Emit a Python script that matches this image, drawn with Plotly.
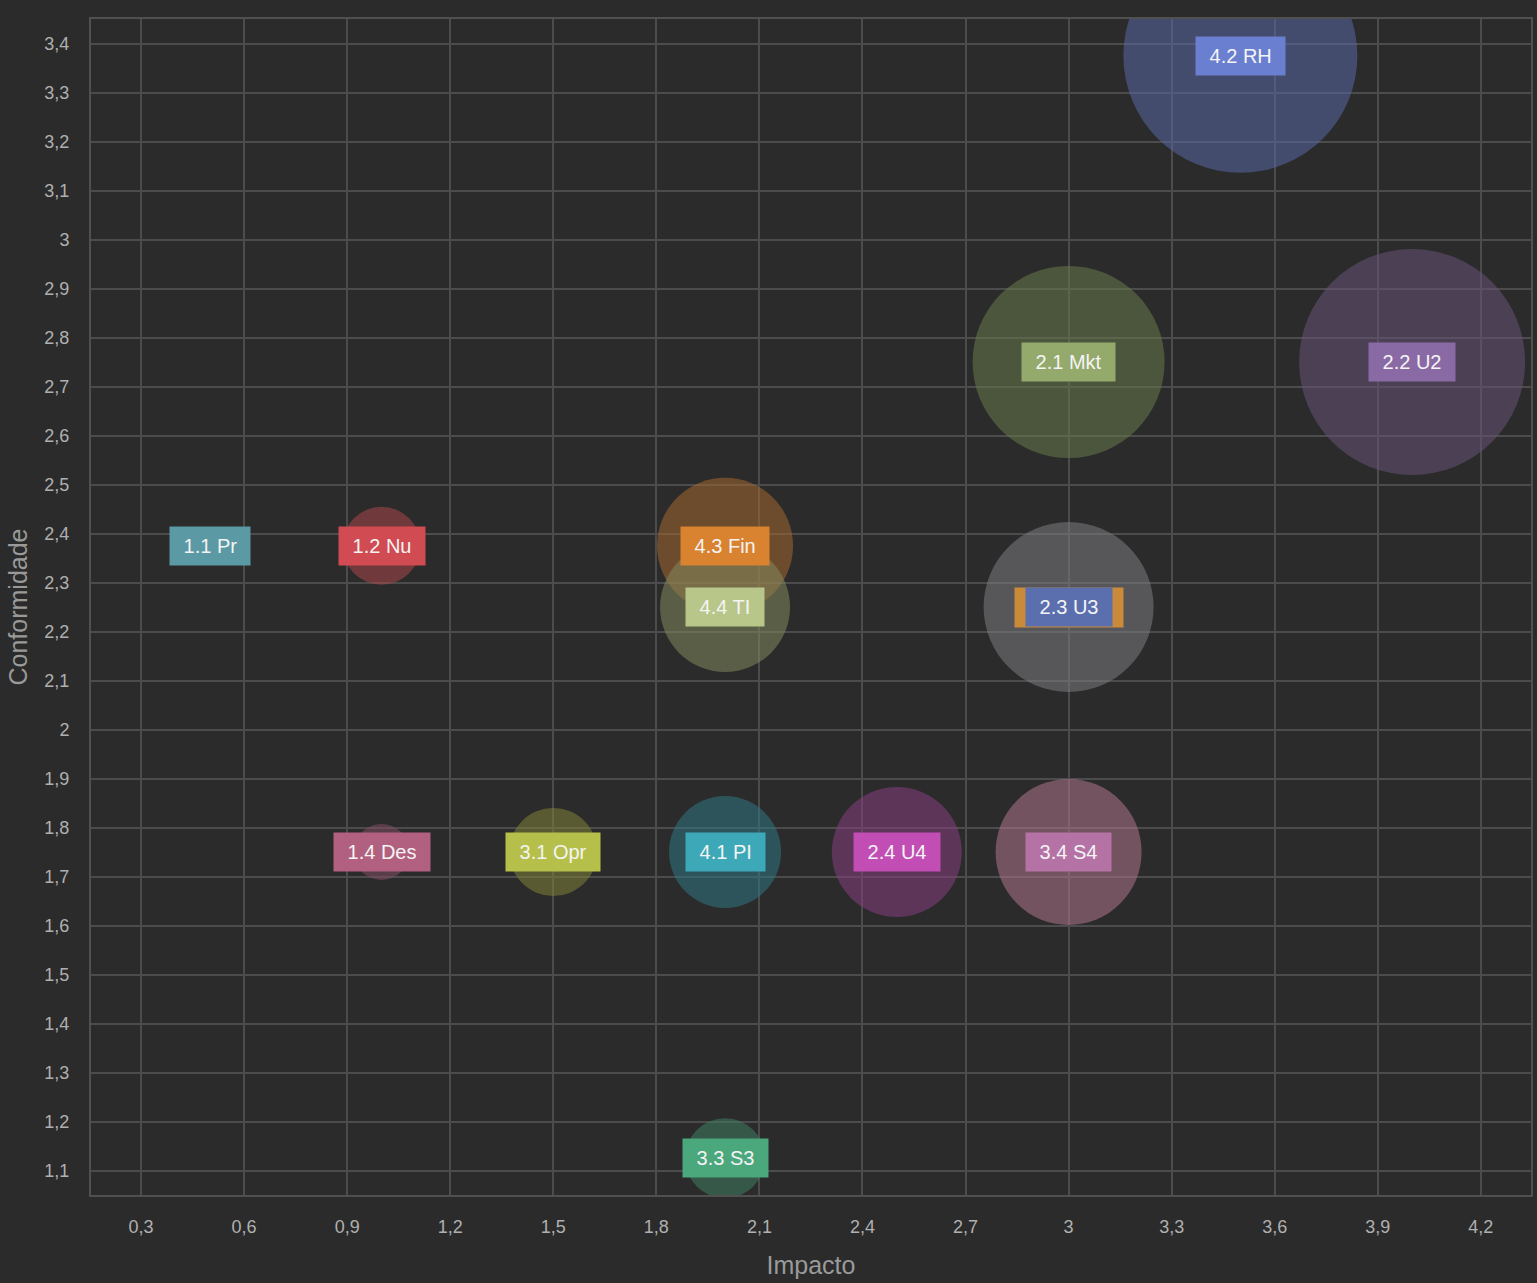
import plotly.graph_objects as go

# ---- data ----
rotulos = ["1.1 Pr", "1.2 Nu", "1.4 Des", "3.1 Opr", "3.3 S3", "4.3 Fin", "4.4 TI",
           "4.1 PI", "2.4 U4", "3.4 S4", "2.3 U3", "2.1 Mkt", "2.2 U2", "4.2 RH"]
impacto = [0.5, 1.0, 1.0, 1.5, 2.0, 2.0, 2.0, 2.0, 2.5, 3.0, 3.0, 3.0, 4.0, 3.5]
conformidade = [2.375, 2.375, 1.75, 1.75, 1.125, 2.375, 2.25, 1.75, 1.75, 1.75, 2.25, 2.75, 2.75, 3.375]
peso = [15, 39, 28, 44, 40, 68, 65, 56, 65, 73, 85, 96, 113, 117]

cor_rotulo = ["#5b9aa4", "#d14c52", "#b1617f", "#b6bf4a", "#4ba77c", "#d9822f", "#b8c68a",
              "#3da8b8", "#c24db5", "#b472a5", "#5b6fae", "#94a96c", "#8a6aa5", "#6a7fcf"]
cor_bolha = ["#4a7a82", "#8e3f43", "#6d4657", "#6d6f35", "#3c6c56", "#8a5a2e", "#6f7452",
             "#2f6670", "#733a6e", "#946579", "#6b6b70", "#5a6944", "#5b4a67", "#4f5b8a"]

x_ticks = [0.3, 0.6, 0.9, 1.2, 1.5, 1.8, 2.1, 2.4, 2.7, 3.0, 3.3, 3.6, 3.9, 4.2]

BG = (43, 43, 43)
ALPHA = 0.78


def to_rgba(hexc):
    h = hexc.lstrip("#")
    obs = [int(h[i:i + 2], 16) for i in (0, 2, 4)]
    c = [max(0, min(255, round((o - (1 - ALPHA) * b) / ALPHA))) for o, b in zip(obs, BG)]
    return f"rgba({c[0]},{c[1]},{c[2]},{ALPHA})"


FONT = "Liberation Sans, Arial, Helvetica, sans-serif"

fig = go.Figure()
fig.add_trace(go.Scatter(
    x=impacto, y=conformidade, mode="markers",
    marker=dict(size=peso, sizemode="diameter", sizeref=0.5,
                color=[to_rgba(c) for c in cor_bolha], line=dict(width=0)),
    hoverinfo="text", text=rotulos, showlegend=False, cliponaxis=True,
))

# hidden label behind 2.3 U3 (orange edges visible)
fig.add_annotation(x=3.0, y=2.25, text=" ", showarrow=False, width=94, height=25,
                   bgcolor="#c98a3a", borderpad=7, font=dict(size=20))

for lab, xv, yv, c in zip(rotulos, impacto, conformidade, cor_rotulo):
    fig.add_annotation(x=xv, y=yv, text="\u00a0" + lab + "\u00a0", showarrow=False,
                       bgcolor=c, borderpad=8,
                       font=dict(family=FONT, size=20, color="#f4f4f4"))

fig.update_layout(
    width=1537, height=1283,
    paper_bgcolor="#2b2b2b", plot_bgcolor="#2b2b2b",
    margin=dict(l=91, r=4, t=19, b=88),
    separators=",.",
    font=dict(family=FONT, color="#b0b0b0", size=18),
)
fig.update_xaxes(
    range=[0.1544, 4.346], tickmode="array", tickvals=x_ticks,
    showgrid=True, gridcolor="#4c4c4c", gridwidth=1.5, zeroline=False,
    showline=True, linecolor="#505050", linewidth=2, mirror=True,
    ticks="outside", ticklen=14, tickcolor="rgba(0,0,0,0)",
    tickfont=dict(size=18, color="#b0b0b0"),
    title=dict(text="Impacto", font=dict(size=25, color="#9a9a9a"), standoff=21),
)
fig.update_yaxes(
    range=[1.05, 3.45], tick0=1.1, dtick=0.1,
    showgrid=True, gridcolor="#4c4c4c", gridwidth=1.5, zeroline=False,
    showline=True, linecolor="#505050", linewidth=2, mirror=True,
    ticks="outside", ticklen=16, tickcolor="rgba(0,0,0,0)",
    tickfont=dict(size=18, color="#b0b0b0"),
    title=dict(text="Conformidade", font=dict(size=25, color="#9a9a9a"), standoff=10),
)

fig.write_html(
    "out.html",
    config={"displayModeBar": False},
    post_script="document.body.style.margin='0';document.body.style.background='#2b2b2b';document.body.style.overflow='hidden';",
)
